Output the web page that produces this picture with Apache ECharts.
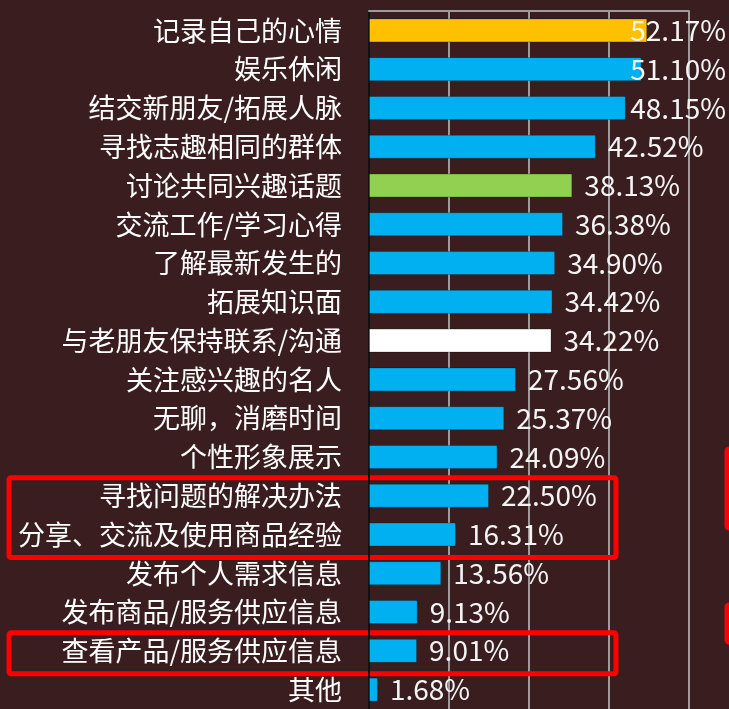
<!DOCTYPE html>
<html>
<head>
<meta charset="utf-8">
<script src="https://cdn.jsdelivr.net/npm/echarts@6/dist/echarts.min.js"></script>
<style>
  html, body { margin: 0; padding: 0; background: #3a1e1f; }
  #chart { width: 729px; height: 709px; }
</style>
</head>
<body>
<div id="chart"></div>
<script>
const categories = [
    '记录自己的心情', '娱乐休闲', '结交新朋友/拓展人脉', '寻找志趣相同的群体',
    '讨论共同兴趣话题', '交流工作/学习心得', '了解最新发生的', '拓展知识面',
    '与老朋友保持联系/沟通', '关注感兴趣的名人', '无聊，消磨时间', '个性形象展示',
    '寻找问题的解决办法', '分享、交流及使用商品经验', '发布个人需求信息',
    '发布商品/服务供应信息', '查看产品/服务供应信息', '其他'
];
const percents = [
    52.17, 51.10, 48.15, 42.52, 38.13, 36.38, 34.90, 34.42, 34.22,
    27.56, 25.37, 24.09, 22.50, 16.31, 13.56, 9.13, 9.01, 1.68
];
// rows boxed in red on the original slide
const boxedGroups = [
    ['寻找问题的解决办法', '分享、交流及使用商品经验'],
    ['查看产品/服务供应信息']
];

const defaultBar = '#00b0f0';
const specialBars = {
    '记录自己的心情': '#ffc000',
    '讨论共同兴趣话题': '#92d050',
    '与老朋友保持联系/沟通': '#ffffff'
};
const font = '"Noto Sans CJK SC", "Microsoft YaHei", sans-serif';
const gridGray = '#a09a9a';

const chart = echarts.init(document.getElementById('chart'));

chart.setOption({
    backgroundColor: '#3a1e1f',
    animation: false,
    grid: { left: 369, top: 11, width: 320, height: 700 },
    xAxis: {
        type: 'value',
        position: 'top',
        min: 0,
        max: 60,
        interval: 15,
        axisLine: { show: true, lineStyle: { color: gridGray, width: 2 } },
        axisTick: { show: false },
        axisLabel: { show: false },
        splitLine: { lineStyle: { color: gridGray, width: 2 } }
    },
    yAxis: {
        type: 'category',
        inverse: true,
        data: categories,
        axisLine: { lineStyle: { color: '#111', width: 2 } },
        axisTick: { show: false },
        axisLabel: { color: '#ffffff', fontSize: 27, fontFamily: font, margin: 27 }
    },
    series: [{
        type: 'bar',
        data: percents,
        barWidth: 24,
        itemStyle: {
            color: p => specialBars[p.name] || defaultBar,
            borderColor: 'rgba(0,0,0,0.25)',
            borderWidth: 1
        },
        label: {
            show: true,
            position: 'right',
            distance: 12,
            color: '#f4f4f4',
            fontSize: 28,
            fontFamily: font,
            formatter: p => p.value.toFixed(2) + '%'
        },
        // labels that would run off the right edge are pushed back in
        labelLayout: params => {
            const r = params.labelRect;
            const over = r.x + r.width - 726;
            if (over <= 0) return {};
            return {
                x: r.x - over,
                y: r.y + r.height / 2,
                align: 'left',
                verticalAlign: 'middle'
            };
        }
    }]
});

// red annotation boxes, placed from the category axis
const boxes = boxedGroups.map(group => {
    const top = chart.convertToPixel({ yAxisIndex: 0 }, group[0]) - 18;
    const bottom = chart.convertToPixel({ yAxisIndex: 0 }, group[group.length - 1]) + 23;
    return {
        type: 'rect',
        shape: { x: 9, y: top, width: 607, height: bottom - top, r: 2 },
        style: { fill: 'none', stroke: '#ff0000', lineWidth: 5 }
    };
});
// edges of boxes from the neighbouring panel, cut off by the frame
const edgeBoxes = [[449, 528], [605, 642]].map(([y0, y1]) => ({
    type: 'rect',
    shape: { x: 727, y: y0, width: 40, height: y1 - y0, r: 2 },
    style: { fill: 'none', stroke: '#ff0000', lineWidth: 5 }
}));
chart.setOption({ graphic: boxes.concat(edgeBoxes) });
</script>
</body>
</html>
